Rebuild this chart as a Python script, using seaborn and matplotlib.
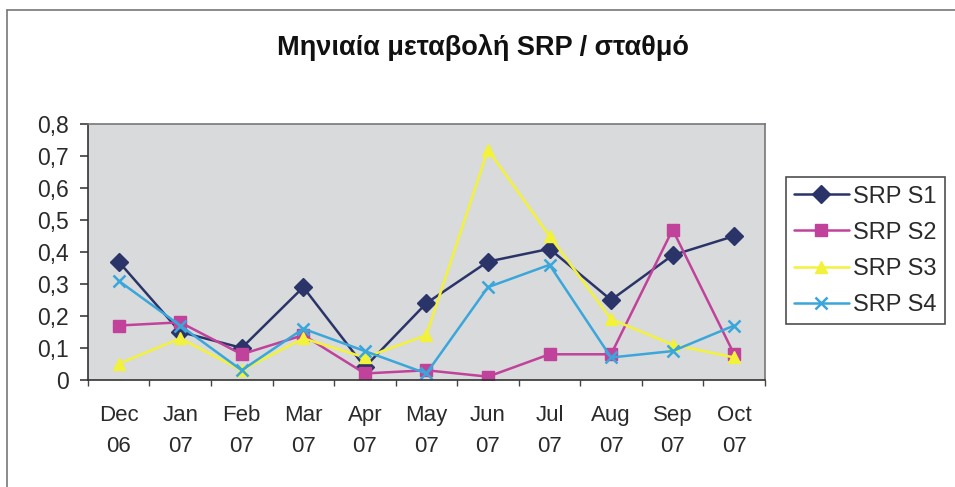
import pandas as pd
import numpy as np
import seaborn as sns
import matplotlib.pyplot as plt
from matplotlib.lines import Line2D
from matplotlib.ticker import FuncFormatter, FixedLocator

months = ["Dec\n06", "Jan\n07", "Feb\n07", "Mar\n07", "Apr\n07", "May\n07",
          "Jun\n07", "Jul\n07", "Aug\n07", "Sep\n07", "Oct\n07"]
srp_s1 = [0.37, 0.15, 0.10, 0.29, 0.04, 0.24, 0.37, 0.41, 0.25, 0.39, 0.45]
srp_s2 = [0.17, 0.18, 0.08, 0.14, 0.02, 0.03, 0.01, 0.08, 0.08, 0.47, 0.08]
srp_s3 = [0.05, 0.13, 0.03, 0.13, 0.07, 0.14, 0.72, 0.45, 0.19, 0.11, 0.07]
srp_s4 = [0.31, 0.17, 0.03, 0.16, 0.09, 0.02, 0.29, 0.36, 0.07, 0.09, 0.17]
series = ["SRP S1", "SRP S2", "SRP S3", "SRP S4"]

sns.set_theme(style="white")
plt.rcParams['font.family'] = ['Liberation Sans', 'DejaVu Sans']
txt = "#2a2a2a"

colors = ["#2b3468", "#c0429a", "#f2f23a", "#3aa6da"]
markers = ["D", "s", "^", "x"]

fig = plt.figure(figsize=(9.55, 4.87), dpi=100)
# thin frame only on top and left, like the scanned page
fig.add_artist(Line2D([0.007, 1], [0.979, 0.979], transform=fig.transFigure, color="#777777", lw=1.2))
fig.add_artist(Line2D([0.007, 0.007], [0, 0.979], transform=fig.transFigure, color="#777777", lw=1.2))
ax = fig.add_axes([0.092, 0.22, 0.709, 0.525])
ax.set_facecolor("#d9dadc")

for name, vals, c, m in zip(series, [srp_s1, srp_s2, srp_s3, srp_s4], colors, markers):
    df = pd.DataFrame({"Month": months, "SRP": vals})
    sns.lineplot(data=df, x="Month", y="SRP", sort=False, color=c, marker=m,
                 markersize=9, markeredgewidth=1.8 if m == "x" else 1,
                 markeredgecolor=c, linewidth=1.8, label=name, ax=ax)

ax.set_xlim(-0.5, len(months) - 0.5)
ax.set_ylim(0, 0.8)
ax.set_yticks(np.arange(0, 0.81, 0.1))
ax.yaxis.set_major_formatter(FuncFormatter(lambda v, p: "0" if v == 0 else f"{v:.1f}".replace(".", ",")))
ax.xaxis.set_minor_locator(FixedLocator(np.arange(-0.5, len(months), 1)))
ax.tick_params(axis="x", which="major", length=0, labelsize=16, pad=18, labelcolor=txt)
ax.tick_params(axis="x", which="minor", length=4, color="#444444", direction="out", bottom=True)
ax.tick_params(axis="y", length=6, color="#444444", direction="out", left=True,
               labelsize=16.5, pad=8, labelcolor=txt)
for lab in ax.get_xticklabels():
    lab.set_linespacing(1.65)
for side, s in ax.spines.items():
    s.set_color("#333333" if side in ("left", "bottom") else "#777777")
    s.set_linewidth(1.2)
ax.set_xlabel("")
ax.set_ylabel("")

fig.text(0.506, 0.902, "Μηνιαία μεταβολή SRP / σταθμό", ha="center", va="center",
         fontsize=19.5, fontweight="bold", color="#111111")

leg = ax.legend(loc="upper left", bbox_to_anchor=(0.823, 0.636), bbox_transform=fig.transFigure,
                fontsize=17, frameon=True, fancybox=False, edgecolor="#222222",
                handlelength=2.3, borderpad=0.35, labelspacing=0.6, handletextpad=0.2,
                borderaxespad=0)
leg.get_frame().set_linewidth(1.2)
for t in leg.get_texts():
    t.set_color(txt)

fig.savefig("out.png", dpi=100)
